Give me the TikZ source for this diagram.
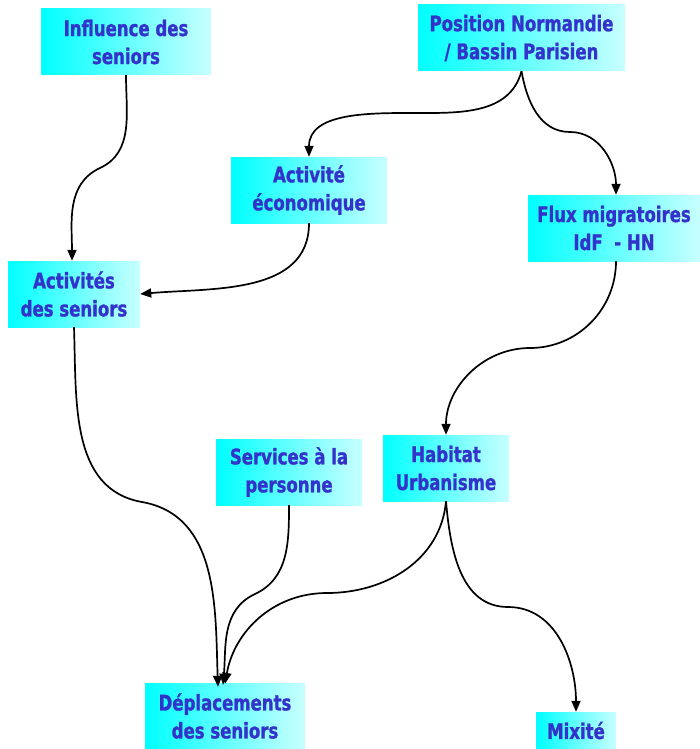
\documentclass[tikz,border=0pt]{standalone}
\usepackage{fontspec}
\setmainfont{DejaVu Sans}[FakeStretch=0.77, BoldFeatures={FakeBold=1.2}]
\usepackage{xcolor}
\usetikzlibrary{arrows.meta}
\definecolor{txtblue}{RGB}{51,51,204}
\definecolor{lightcyan}{RGB}{200,255,255}
\tikzset{
  box/.style={left color=cyan, right color=lightcyan, draw=none, inner sep=0pt,
    minimum height=66pt, align=center, text=txtblue,
    font=\fontsize{21.5}{28}\selectfont\bfseries},
  link/.style={line width=1.7pt, -{Triangle[length=11pt,width=9pt]}}
}
\begin{document}
\begin{tikzpicture}[x=1pt,y=-1pt]
        \useasboundingbox (0,0) rectangle (700,749);
        %BOXES
        \node[box, minimum width=170pt] (influence) at (126,42) {Influence des\\seniors};
        \node[box, minimum width=207pt] (position) at (521.5,38) {Position Normandie\\/ Bassin Parisien};
        \node[box, minimum width=156pt] (activeco) at (309,190) {Activité\\économique};
        \node[box, minimum width=172pt] (flux) at (614,228) {Flux migratoires\\IdF\ \ - HN};
        \node[box, minimum width=132pt] (actseniors) at (74,294) {Activités\\des seniors};
        \node[box, minimum width=146pt] (services) at (289,472) {Services à la\\personne};
        \node[box, minimum width=126pt] (habitat) at (446,468) {Habitat\\Urbanisme};
        \node[box, minimum width=160pt] (deplacements) at (225,716) {Déplacements\\des seniors};
        \node[box, minimum width=80pt, minimum height=37pt] (mixite) at (576,730.5) {Mixité};
        %BENDS
        \coordinate (b1) at (100,168);
        \coordinate (b2) at (413,113);
        \coordinate (b3) at (570,132);
        \coordinate (b4) at (530,348);
        \coordinate (b5) at (142,502);
        \coordinate (b6) at (255,594);
        \coordinate (b7) at (327,593);
        \coordinate (b8) at (508,607);
        %ARROWS
        \draw[link] (influence.south) to[out=-90,in=25] (b1) to[out=205,in=90] ([xshift=-2pt]actseniors.north);
        \draw[link] (position.south) to[out=-105,in=0] (b2) to[out=180,in=90] (activeco.north);
        \draw[link] (position.south) to[out=-80,in=180] (b3) to[out=0,in=90] ([xshift=2pt]flux.north);
        \draw[link] (activeco.south) to[out=-90,in=5] (actseniors.east);
        \draw[link] ([xshift=2pt]flux.south) to[out=-90,in=0] (b4) to[out=180,in=90] (habitat.north);
        \draw[link] (actseniors.south) to[out=-88,in=170] (b5) to[out=-10,in=92] ([xshift=-7pt,yshift=-4pt]deplacements.north);
        \draw[link] (services.south) to[out=-90,in=25] (b6) to[out=205,in=85] ([xshift=-2pt,yshift=-2pt]deplacements.north);
        \draw[link] (habitat.south) to[out=-95,in=0] (b7) to[out=180,in=80] ([yshift=-1pt]deplacements.north);
        \draw[link] (habitat.south) to[out=-85,in=180] (b8) to[out=0,in=90] (mixite.north);
\end{tikzpicture}
\end{document}
